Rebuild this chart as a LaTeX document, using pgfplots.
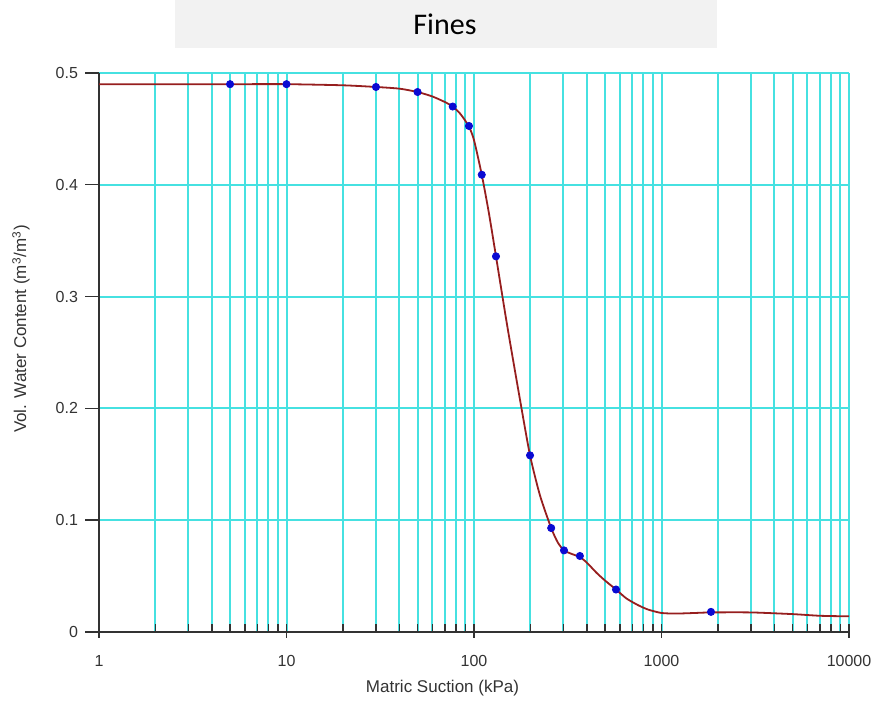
\documentclass[border=0pt]{standalone}
\usepackage{fontspec}
\setmainfont{Liberation Sans}
\newfontfamily\titlefont{Carlito}
\usepackage{pgfplots}
\pgfplotsset{compat=1.18}
\definecolor{gridcyan}{RGB}{70,225,225}
\definecolor{curvered}{RGB}{150,30,30}
\definecolor{ptblue}{RGB}{10,10,210}
\definecolor{axisgray}{RGB}{50,50,50}

\begin{document}
\begin{tikzpicture}
  \useasboundingbox (0,0) rectangle (439pt,353pt);

  % title banner
  \fill[black!5] (87.5pt,329pt) rectangle (358.5pt,353pt);
  \node[font=\titlefont\fontsize{15}{18}\selectfont] at (222.5pt,341pt) {Fines};

  \begin{semilogxaxis}[
    scale only axis,
    width=375pt, height=279.5pt,
    at={(49.5pt,37pt)}, anchor=south west,
    xmin=1, xmax=10000, ymin=0, ymax=0.5,
    axis lines*=left,
    axis line style={axisgray, line width=1pt},
    xtick={1,10,100,1000,10000},
    xticklabels={1,10,100,1000,10000},
    minor xtick={2,3,4,5,6,7,8,9,20,30,40,50,60,70,80,90,200,300,400,500,600,700,800,900,2000,3000,4000,5000,6000,7000,8000,9000},
    ytick={0,0.1,0.2,0.3,0.4,0.5},
    yticklabels={0,0.1,0.2,0.3,0.4,0.5},
    grid=both,
    major grid style={gridcyan, line width=1pt},
    minor grid style={gridcyan, line width=1pt},
    tick align=outside,
    major tick length=7pt,
    minor tick length=4pt,
    tick style={axisgray, line width=0.7pt},
    major x tick style={yshift=4pt},
    minor x tick style={yshift=4pt},
    tick label style={font=\fontsize{8}{9}\selectfont, text=black!80},
    xticklabel style={yshift=-1pt},
    /pgf/number format/assume math mode=true,
    xlabel={Matric Suction (kPa)},
    ylabel={Vol. Water Content (m\textsuperscript{3}/m\textsuperscript{3})},
    every axis x label/.style={at={(axis description cs:0.458,-0.1)}, anchor=center, font=\fontsize{8.5}{10}\selectfont, text=black!80},
    every axis y label/.style={at={(axis description cs:-0.104,0.542)}, anchor=center, rotate=90, font=\fontsize{8.5}{10}\selectfont, text=black!80},
    clip=false,
  ]

  % fitted curve
  \addplot[curvered, line width=0.9pt, smooth, tension=0.4] coordinates {
    (1,0.490) (5,0.490) (10,0.490) (20,0.489) (30,0.4875) (40,0.486) (50,0.483)
    (60,0.479) (70,0.474) (77,0.470) (85,0.463) (94,0.452) (100,0.440)
    (110,0.409) (120,0.375) (131,0.336) (150,0.275) (175,0.210) (199,0.158)
    (225,0.122) (258,0.093) (280,0.080) (302,0.073) (330,0.070) (367,0.067)
    (400,0.062) (450,0.053) (500,0.046) (572,0.038) (650,0.030) (750,0.024)
    (850,0.020) (1000,0.017) (1200,0.0165) (1500,0.017) (1836,0.0175)
    (3000,0.0175) (5000,0.016) (7000,0.0145) (10000,0.014)
  };

  % measured points
  \addplot[only marks, mark=*, mark size=1.8pt, ptblue] coordinates {
    (5,0.490) (10,0.490) (30,0.4875) (50,0.483) (77,0.470) (94,0.4526)
    (110,0.409) (131,0.336) (199,0.158) (258,0.093) (302,0.073)
    (367,0.068) (572,0.038) (1836,0.018)
  };

  \end{semilogxaxis}
\end{tikzpicture}
\end{document}
